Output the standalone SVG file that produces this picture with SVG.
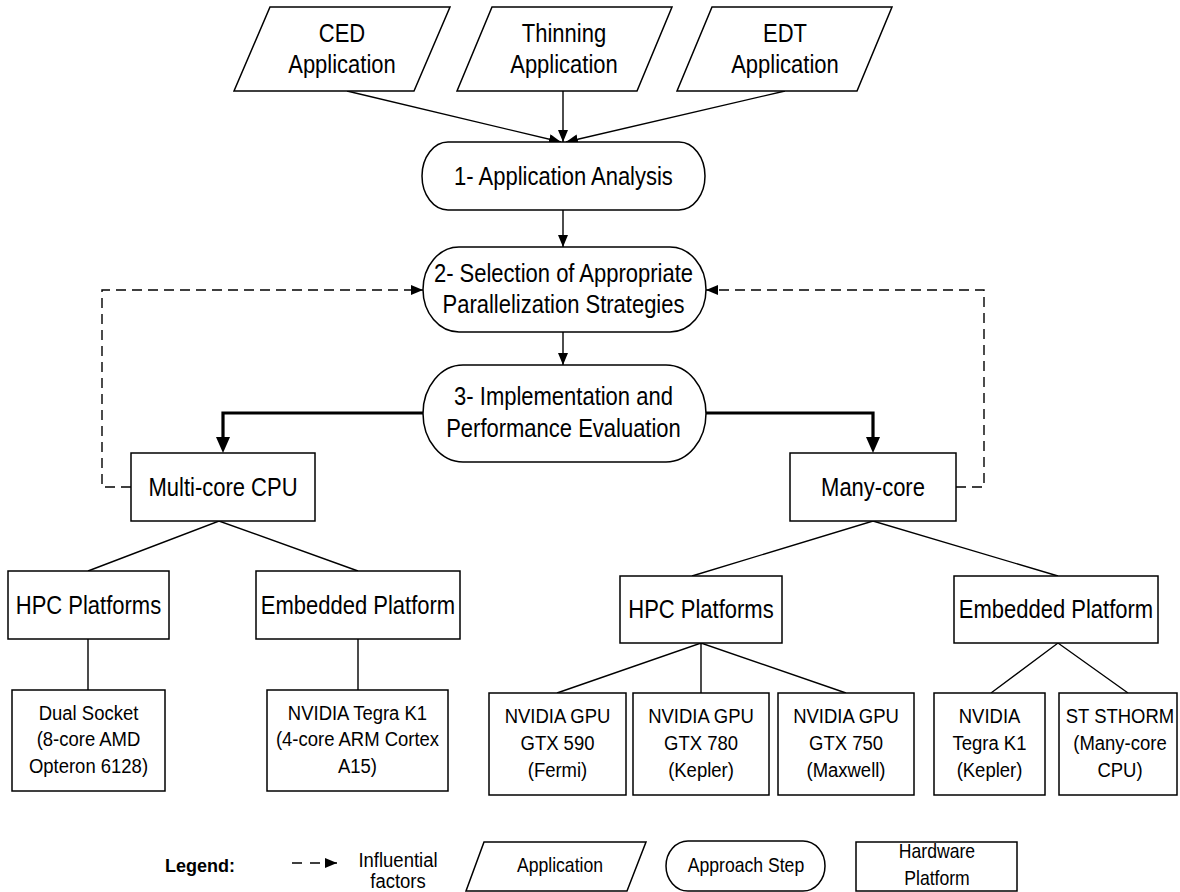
<svg xmlns="http://www.w3.org/2000/svg" width="1180" height="892" viewBox="0 0 1180 892">
  <defs>
    <marker id="arrow" viewBox="0 0 12 10" refX="12" refY="5" markerWidth="12" markerHeight="10" markerUnits="userSpaceOnUse" orient="auto">
      <path d="M0,0 L12,5 L0,10 z" fill="#000"/>
    </marker>
    <marker id="arrowBold" viewBox="0 0 16 14" refX="10" refY="7" markerWidth="16" markerHeight="14" markerUnits="userSpaceOnUse" orient="auto">
      <path d="M0,0 L16,7 L0,14 z" fill="#000"/>
    </marker>
  </defs>
  <style>
    .shape { fill: #fff; stroke: #000; stroke-width: 1.5; }
    .link { fill: none; stroke: #000; stroke-width: 1.4; }
    .bold { fill: none; stroke: #000; stroke-width: 3.2; }
    .dash { fill: none; stroke: #000; stroke-width: 1.4; stroke-dasharray: 10 6; }
    text { font-family: "Liberation Sans", Arial, Helvetica, sans-serif; fill: #000; text-anchor: middle;
           transform-box: fill-box; transform-origin: center; transform: scaleX(0.88); }
    .lg { font-size: 25px; }
    .md { font-size: 21px; }
    .sm { font-size: 20px; }
    .key { font-size: 18px; font-weight: bold; transform: none; }
  </style>
  <rect width="1180" height="892" fill="#fff"/>

  <!-- connectors -->
  <g id="connectors">
    <line class="link" x1="347" y1="91" x2="561" y2="142" marker-end="url(#arrow)"/>
    <line class="link" x1="563" y1="91" x2="563" y2="142" marker-end="url(#arrow)"/>
    <line class="link" x1="785" y1="91" x2="566" y2="142" marker-end="url(#arrow)"/>
    <line class="link" x1="563" y1="210" x2="563" y2="247" marker-end="url(#arrow)"/>
    <line class="link" x1="563" y1="332" x2="563" y2="365" marker-end="url(#arrow)"/>
    <path class="bold" d="M423,413 H223 V447" marker-end="url(#arrowBold)"/>
    <path class="bold" d="M706,413 H873 V447" marker-end="url(#arrowBold)"/>
    <path class="dash" d="M131,487 H102 V290 H423" marker-end="url(#arrow)"/>
    <path class="dash" d="M956,487 H984 V290 H706" marker-end="url(#arrow)"/>
    <path class="link" d="M88,571 L219,521 L358,571"/>
    <path class="link" d="M88,639 V690 M358,639 V690"/>
    <path class="link" d="M692,576 L873,521 L1058,576"/>
    <path class="link" d="M557,693 L701,643 L846,693 M701,643 V693"/>
    <path class="link" d="M991,693 L1058,643 L1128,693"/>
  </g>

  <!-- applications -->
  <g id="app-ced">
    <polygon class="shape" points="270,7 450,7 414,91 234,91"/>
    <text class="lg" x="342" y="42">CED</text>
    <text class="lg" x="342" y="73">Application</text>
  </g>
  <g id="app-thinning">
    <polygon class="shape" points="492,7 672,7 637,91 457,91"/>
    <text class="lg" x="564" y="42">Thinning</text>
    <text class="lg" x="564" y="73">Application</text>
  </g>
  <g id="app-edt">
    <polygon class="shape" points="712,7 892,7 857,91 677,91"/>
    <text class="lg" x="785" y="42">EDT</text>
    <text class="lg" x="785" y="73">Application</text>
  </g>

  <!-- approach steps -->
  <g id="step-1">
    <rect class="shape" x="422" y="142" width="283" height="68" rx="26" ry="34"/>
    <text class="lg" x="563.5" y="185">1- Application Analysis</text>
  </g>
  <g id="step-2">
    <rect class="shape" x="423" y="247" width="283" height="85" rx="36" ry="42.5"/>
    <text class="lg" x="563.5" y="282">2- Selection of Appropriate</text>
    <text class="lg" x="563.5" y="313">Parallelization Strategies</text>
  </g>
  <g id="step-3">
    <rect class="shape" x="423" y="365" width="283" height="97" rx="40" ry="48.5"/>
    <text class="lg" x="563.5" y="405">3- Implementation and</text>
    <text class="lg" x="563.5" y="437">Performance Evaluation</text>
  </g>

  <!-- hardware platforms -->
  <g id="multi-core">
    <rect class="shape" x="131" y="453" width="184" height="68"/>
    <text class="lg" x="223" y="496">Multi-core CPU</text>
  </g>
  <g id="many-core">
    <rect class="shape" x="790" y="453" width="166" height="68"/>
    <text class="lg" x="873" y="496">Many-core</text>
  </g>
  <g id="cpu-hpc">
    <rect class="shape" x="8" y="571" width="161" height="68"/>
    <text class="lg" x="88.5" y="614">HPC Platforms</text>
  </g>
  <g id="cpu-embedded">
    <rect class="shape" x="256" y="571" width="204" height="68"/>
    <text class="lg" x="358" y="614">Embedded Platform</text>
  </g>
  <g id="amd-opteron">
    <rect class="shape" x="12" y="690" width="153" height="101"/>
    <text class="md" x="88.5" y="720">Dual Socket</text>
    <text class="md" x="88.5" y="746">(8-core AMD</text>
    <text class="md" x="88.5" y="773">Opteron 6128)</text>
  </g>
  <g id="tegra-arm">
    <rect class="shape" x="267" y="690" width="181" height="101"/>
    <text class="md" x="357.5" y="720">NVIDIA Tegra K1</text>
    <text class="md" x="357.5" y="746">(4-core ARM Cortex</text>
    <text class="md" x="357.5" y="773">A15)</text>
  </g>
  <g id="gpu-hpc">
    <rect class="shape" x="620" y="576" width="162" height="67"/>
    <text class="lg" x="701" y="618">HPC Platforms</text>
  </g>
  <g id="gpu-embedded">
    <rect class="shape" x="954" y="576" width="204" height="67"/>
    <text class="lg" x="1056" y="618">Embedded Platform</text>
  </g>
  <g id="gtx-590">
    <rect class="shape" x="489" y="693" width="137" height="102"/>
    <text class="md" x="557.5" y="723">NVIDIA GPU</text>
    <text class="md" x="557.5" y="750">GTX 590</text>
    <text class="md" x="557.5" y="777">(Fermi)</text>
  </g>
  <g id="gtx-780">
    <rect class="shape" x="633" y="693" width="136" height="102"/>
    <text class="md" x="701" y="723">NVIDIA GPU</text>
    <text class="md" x="701" y="750">GTX 780</text>
    <text class="md" x="701" y="777">(Kepler)</text>
  </g>
  <g id="gtx-750">
    <rect class="shape" x="778" y="693" width="136" height="102"/>
    <text class="md" x="846" y="723">NVIDIA GPU</text>
    <text class="md" x="846" y="750">GTX 750</text>
    <text class="md" x="846" y="777">(Maxwell)</text>
  </g>
  <g id="tegra-kepler">
    <rect class="shape" x="934" y="693" width="111" height="102"/>
    <text class="md" x="989.5" y="723">NVIDIA</text>
    <text class="md" x="989.5" y="750">Tegra K1</text>
    <text class="md" x="989.5" y="777">(Kepler)</text>
  </g>
  <g id="st-sthorm">
    <rect class="shape" x="1059" y="693" width="118" height="102"/>
    <text class="md" x="1120" y="723">ST STHORM</text>
    <text class="md" x="1120" y="750">(Many-core</text>
    <text class="md" x="1120" y="777">CPU)</text>
  </g>

  <!-- legend -->
  <g id="legend">
    <text class="key" x="200" y="872">Legend:</text>
    <line class="dash" x1="292" y1="863" x2="337" y2="863" style="stroke-dasharray: 10 8" marker-end="url(#arrow)"/>
    <text class="md" x="398" y="867">Influential</text>
    <text class="md" x="398" y="888">factors</text>
    <polygon class="shape" points="484,842 646,842 627,891 466,891"/>
    <text class="sm" x="560" y="872">Application</text>
    <rect class="shape" x="666" y="841" width="159" height="50" rx="22" ry="25"/>
    <text class="sm" x="746" y="872">Approach Step</text>
    <rect class="shape" x="856" y="842" width="161" height="49"/>
    <text class="sm" x="937" y="858">Hardware</text>
    <text class="sm" x="937" y="885">Platform</text>
  </g>
</svg>
